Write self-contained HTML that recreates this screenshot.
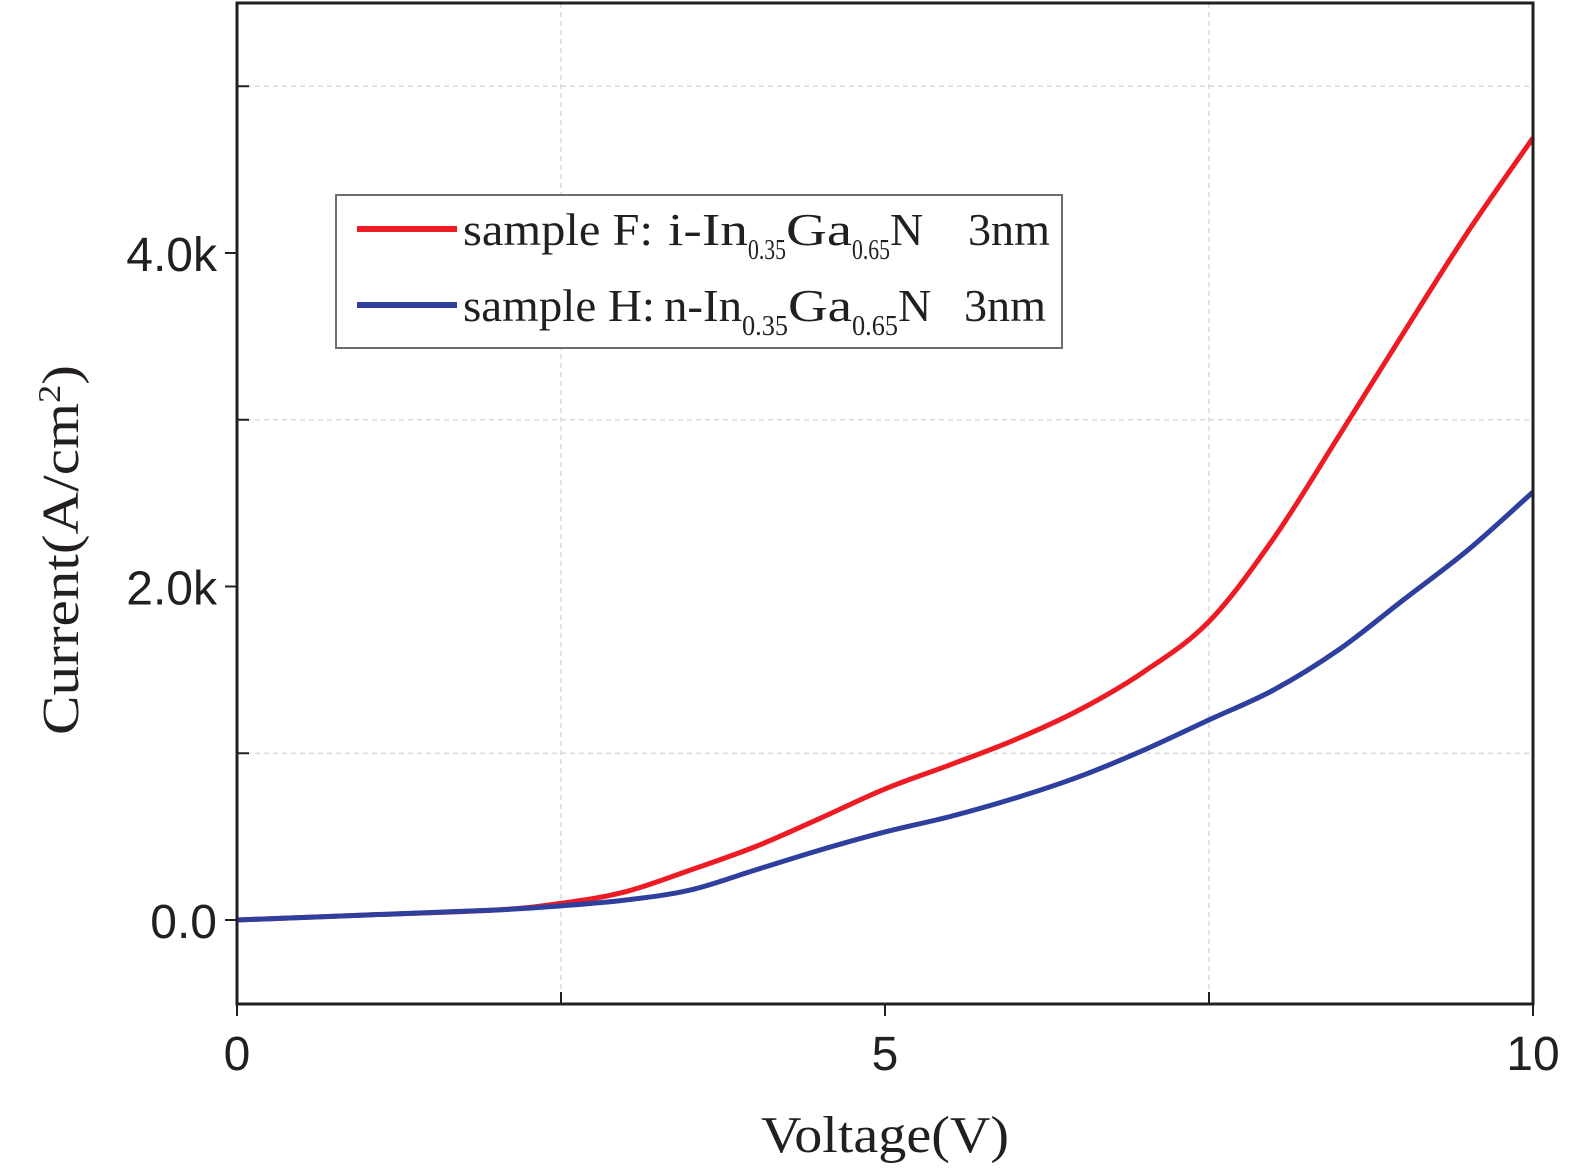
<!DOCTYPE html>
<html><head><meta charset="utf-8"><style>
html,body{margin:0;padding:0;background:#fff;}
svg{display:block;}
.tick{font-family:"Liberation Sans",sans-serif;font-size:48px;fill:#231f20;}
.title{font-family:"Liberation Serif",serif;font-size:52px;fill:#231f20;}
.leg{font-family:"Liberation Serif",serif;font-size:46px;fill:#231f20;}
</style></head><body>
<svg id="chart" width="1575" height="1169" viewBox="0 0 1575 1169">
<g id="grid"></g>
<g id="series"></g>
<rect x="237" y="3" width="1296" height="1001" fill="none" stroke="#231f20" stroke-width="3"/>
<g id="axes"></g>
<text class="title" x="885" y="1152" text-anchor="middle" textLength="248" lengthAdjust="spacingAndGlyphs">Voltage(V)</text>
<text class="title" transform="translate(78,550) rotate(-90)" text-anchor="middle" textLength="370" lengthAdjust="spacingAndGlyphs">Current(A/cm<tspan dy="-18" font-size="32">2</tspan><tspan dy="18">)</tspan></text>
<g>
<rect x="336" y="195" width="726" height="153" fill="#fff" stroke="#6d6e71" stroke-width="2"/>
<line x1="357" y1="229" x2="457" y2="229" stroke="#ed1c24" stroke-width="6"/>
<text class="leg" x="463" y="245"><tspan textLength="190" lengthAdjust="spacingAndGlyphs">sample F:</tspan><tspan x="668" textLength="80" lengthAdjust="spacingAndGlyphs">i-In</tspan><tspan font-size="28" dy="14" textLength="38" lengthAdjust="spacingAndGlyphs">0.35</tspan><tspan dy="-14" textLength="66" lengthAdjust="spacingAndGlyphs">Ga</tspan><tspan font-size="28" dy="14" textLength="38" lengthAdjust="spacingAndGlyphs">0.65</tspan><tspan dy="-14">N</tspan><tspan x="968" textLength="82" lengthAdjust="spacingAndGlyphs">3nm</tspan></text>
<line x1="357" y1="305" x2="457" y2="305" stroke="#2e3f9e" stroke-width="6"/>
<text class="leg" x="463" y="321"><tspan textLength="192" lengthAdjust="spacingAndGlyphs">sample H:</tspan><tspan x="664" textLength="78" lengthAdjust="spacingAndGlyphs">n-In</tspan><tspan font-size="28" dy="14" textLength="46" lengthAdjust="spacingAndGlyphs">0.35</tspan><tspan dy="-14" textLength="64" lengthAdjust="spacingAndGlyphs">Ga</tspan><tspan font-size="28" dy="14" textLength="46" lengthAdjust="spacingAndGlyphs">0.65</tspan><tspan dy="-14">N</tspan><tspan x="964" textLength="82" lengthAdjust="spacingAndGlyphs">3nm</tspan></text>
</g>
</svg>
<script>
const voltages=[0,1,2,2.5,3,3.5,4,4.5,5,5.5,6,6.5,7,7.5,8,8.5,9,9.5,10];
const currentF=[0,30,60,100,170,300,440,610,786,930,1080,1260,1490,1790,2290,2900,3520,4130,4690];
const currentH=[0,30,60,85,120,180,300,420,528,620,730,860,1020,1200,1380,1620,1920,2220,2567];
const xTicks=[0,5,10];
const xTickLabels=["0","5","10"];
const yTicks=[0,2000,4000];
const yTickLabels=["0.0","2.0k","4.0k"];
const xMinor=[2.5,7.5];
const yMinor=[1000,3000,5000];
const NS="http://www.w3.org/2000/svg";
const X=v=>237+(v-0)/(10-0)*1296;
const Y=v=>920-(v/1000)*166.75;
function mk(tag,attrs,parent){const e=document.createElementNS(NS,tag);for(const k in attrs)e.setAttribute(k,attrs[k]);parent.appendChild(e);return e;}
const grid=document.getElementById('grid'),axes=document.getElementById('axes'),series=document.getElementById('series');
xMinor.forEach(v=>{const l=mk('line',{x1:X(v),x2:X(v),y1:3,y2:1004,stroke:'#d8d8d8','stroke-width':1.5,'stroke-dasharray':'5,4'},grid);


const t=mk('line',{x1:X(v),x2:X(v),y1:1004,y2:992,stroke:'#231f20','stroke-width':2},axes);

});
yMinor.forEach(v=>{const l=mk('line',{x1:237,x2:1533,y1:Y(v),y2:Y(v),stroke:'#d8d8d8','stroke-width':1.5,'stroke-dasharray':'5,4'},grid);


const t=mk('line',{x1:237,x2:249,y1:Y(v),y2:Y(v),stroke:'#231f20','stroke-width':2},axes);

});
xTicks.forEach((v,i)=>{const t=mk('line',{x1:X(v),x2:X(v),y1:1004,y2:1016,stroke:'#231f20','stroke-width':2},axes);


const tx=mk('text',{x:X(v),y:1070,'text-anchor':'middle',class:'tick'},axes);tx.textContent=xTickLabels[i];

});
yTicks.forEach((v,i)=>{const t=mk('line',{x1:225,x2:237,y1:Y(v),y2:Y(v),stroke:'#231f20','stroke-width':2},axes);


const tx=mk('text',{x:217,y:Y(v)+18,'text-anchor':'end',class:'tick'},axes);tx.textContent=yTickLabels[i];

});
function path(vals){const p=voltages.map((v,i)=>[X(v),Y(vals[i])]);
let d='M'+p[0][0]+','+p[0][1];
for(let i=0;i<p.length-1;i++){const p0=p[i-1]||p[i],p1=p[i],p2=p[i+1],p3=p[i+2]||p2;
d+=` C${p1[0]+(p2[0]-p0[0])/6},${p1[1]+(p2[1]-p0[1])/6} ${p2[0]-(p3[0]-p1[0])/6},${p2[1]-(p3[1]-p1[1])/6} ${p2[0]},${p2[1]}`;}
return d;}
const pf=mk('path',{d:path(currentF),fill:'none',stroke:'#ed1c24','stroke-width':5},series);


const ph=mk('path',{d:path(currentH),fill:'none',stroke:'#2e3f9e','stroke-width':5},series);


</script>
</body></html>
